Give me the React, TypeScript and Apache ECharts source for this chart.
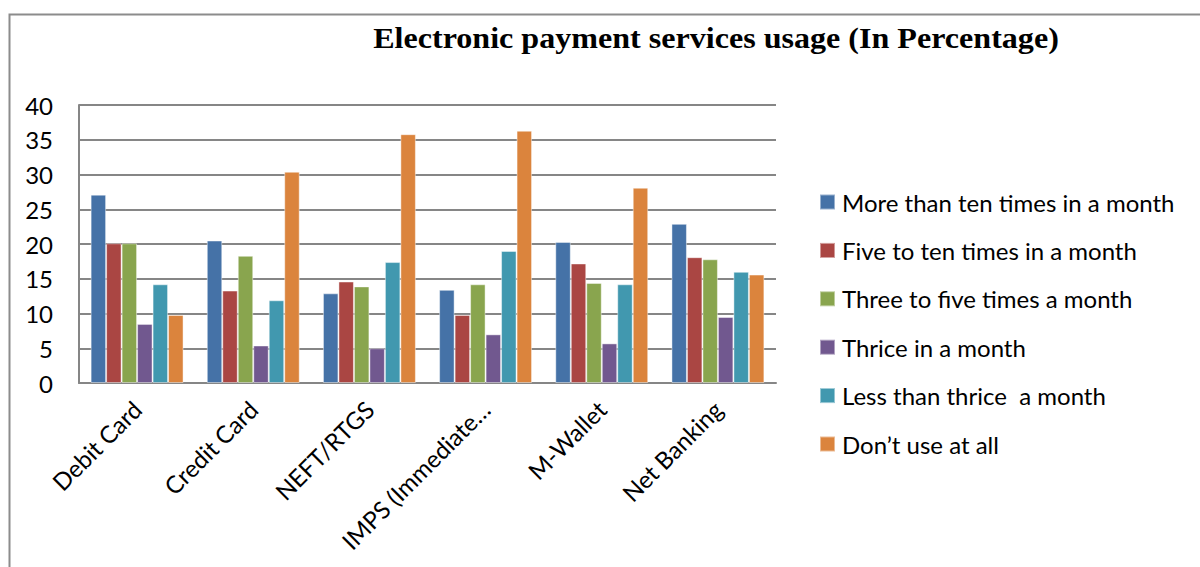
import React, { useEffect, useRef } from "react";
import * as echarts from "echarts";

const categories = ["Debit Card", "Credit Card", "NEFT/RTGS", "IMPS (Immediate…", "M-Wallet", "Net Banking"];
const seriesNames = [
  "More than ten times in a month",
  "Five to ten times in a month",
  "Three to five times a month",
  "Thrice in a month",
  "Less than thrice  a month",
  "Don’t use at all",
];
const moreThanTen = [27.1, 20.5, 12.9, 13.4, 20.3, 22.9];
const fiveToTen = [20.1, 13.3, 14.6, 9.8, 17.2, 18.1];
const threeToFive = [20.1, 18.3, 13.9, 14.2, 14.4, 17.8];
const thrice = [8.5, 5.4, 5.0, 7.0, 5.7, 9.5];
const lessThanThrice = [14.2, 11.9, 17.4, 19.0, 14.2, 16.0];
const dontUse = [9.8, 30.4, 35.8, 36.3, 28.1, 15.6];
const yTicks = { min: 0, max: 40, interval: 5 };
const titleText = "Electronic payment services usage (In Percentage)";

const colors = ["#4572A7", "#AA4643", "#89A54E", "#71588F", "#4198AF", "#DB843D"];
const FONT = "Lato, 'Liberation Sans', sans-serif";

export default function App() {
  const ref = useRef<HTMLDivElement>(null);
  useEffect(() => {
    if (!ref.current) return;
    const chart = echarts.init(ref.current, undefined, { renderer: "svg" });
    const values = [moreThanTen, fiveToTen, threeToFive, thrice, lessThanThrice, dontUse];
    chart.setOption({
      animation: false,
      color: colors,
      graphic: [
        {
          type: "rect",
          shape: { x: 9.5, y: 14.5, width: 1400, height: 800 },
          style: { fill: "none", stroke: "#8c8c8c", lineWidth: 2 },
          silent: true,
          z: -1,
        },
        {
          type: "text",
          x: 716,
          y: 38,
          scaleX: 1.07,
          silent: true,
          style: {
            text: titleText,
            textAlign: "center",
            textVerticalAlign: "middle",
            fontFamily: "'Liberation Serif', 'Times New Roman', serif",
            fontWeight: "bold",
            fontSize: 30,
            fill: "#000",
          },
        },
      ],
      legend: {
        orient: "vertical",
        left: 814,
        top: 185,
        itemWidth: 15,
        itemHeight: 15,
        itemGap: 24.4,
        icon: "rect",
        data: seriesNames,
        textStyle: { fontFamily: FONT, fontSize: 24, lineHeight: 24, color: "#000", padding: [0, 0, 0, 2] },
      },
      grid: { left: 79, right: 424, top: 105, bottom: 184, containLabel: false },
      xAxis: {
        type: "category",
        data: categories,
        axisLine: { show: true, lineStyle: { color: "#868686", width: 2 } },
        axisTick: { show: false },
        axisLabel: {
          interval: 0,
          rotate: 45,
          margin: 22,
          fontFamily: FONT,
          fontSize: 24,
          color: "#000",
        },
      },
      yAxis: {
        type: "value",
        min: yTicks.min,
        max: yTicks.max,
        interval: yTicks.interval,
        axisLine: { show: true, lineStyle: { color: "#868686", width: 2 } },
        axisTick: { show: false },
        splitLine: { lineStyle: { color: "#868686", width: 2 } },
        axisLabel: { margin: 26, fontFamily: FONT, fontSize: 24, color: "#000" },
      },
      series: values.map((v, i) => ({
        name: seriesNames[i],
        type: "bar",
        data: v,
        barGap: "0%",
        barCategoryGap: "20%",
        itemStyle: { borderColor: "rgba(255,255,255,0.45)", borderWidth: 1 },
      })),
    });
    return () => chart.dispose();
  }, []);
  return (
    <div
      ref={ref}
      style={{ position: "absolute", left: 0, top: 0, width: 1200, height: 567, background: "#fff" }}
    />
  );
}
